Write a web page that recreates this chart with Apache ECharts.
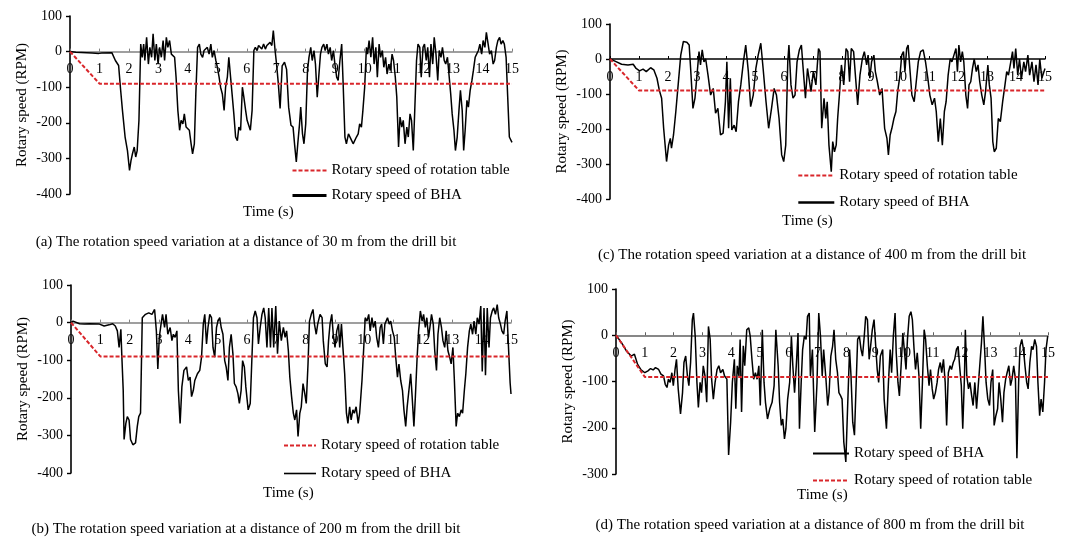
<!DOCTYPE html>
<html>
<head>
<meta charset="utf-8">
<script src="https://cdn.jsdelivr.net/npm/echarts@6/dist/echarts.min.js"></script>
<style>
html,body{margin:0;padding:0;background:#fff;}
#main{width:1065px;height:544px;}
</style>
</head>
<body>
<div id="main"></div>
<script>
// ---------- DATA ----------
const xTicks = [0,1,2,3,4,5,6,7,8,9,10,11,12,13,14,15];
const tableTime = [0, 1, 15];
const tableSpeed = [0, -90, -90];
const nameTable = 'Rotary speed of rotation table';
const nameBHA = 'Rotary speed of BHA';

// (a) 30 m : [time s, rpm]
const bhaA = [[0,0],[0.2,-2],[0.75,-4],[0.98,-5],[1.03,-7],[1.08,-4],[1.42,-3],[1.48,-3],[1.54,-25],[1.59,-30],[1.65,-39],[1.71,-100],[1.78,-165],[1.87,-240],[1.95,-278],[2.02,-334],[2.07,-306],[2.12,-287],[2.18,-268],[2.23,-296],[2.28,-278],[2.34,-193],[2.4,21],[2.45,-16],[2.5,21],[2.54,-25],[2.6,40],[2.66,-35],[2.71,12],[2.77,-16],[2.82,50],[2.88,-25],[2.93,21],[2.99,-35],[3.04,12],[3.1,-16],[3.16,31],[3.21,-25],[3.27,40],[3.32,12],[3.38,31],[3.44,-7],[3.49,-2],[3.55,-16],[3.6,-72],[3.66,-165],[3.72,-221],[3.77,-193],[3.83,-203],[3.88,-175],[3.94,-212],[4.0,-212],[4.05,-221],[4.11,-259],[4.16,-287],[4.22,-259],[4.27,-119],[4.33,12],[4.39,21],[4.44,-7],[4.5,-16],[4.55,3],[4.61,-2],[4.66,12],[4.72,-7],[4.78,21],[4.83,-16],[4.89,3],[4.95,-25],[5.0,-44],[5.06,-72],[5.11,-100],[5.17,-119],[5.23,-165],[5.28,-100],[5.34,-72],[5.39,-16],[5.45,-72],[5.51,-128],[5.56,-175],[5.62,-240],[5.68,-250],[5.73,-212],[5.79,-221],[5.85,-100],[5.9,-128],[5.96,-165],[6.01,-193],[6.07,-193],[6.12,-221],[6.18,-165],[6.24,3],[6.29,12],[6.35,3],[6.4,17],[6.51,7],[6.57,21],[6.63,7],[6.68,17],[6.74,12],[6.79,26],[6.85,17],[6.9,59],[6.96,3],[7.01,-35],[7.07,-90],[7.13,-160],[7.2,-40],[7.28,-30],[7.35,-50],[7.42,-156],[7.5,-207],[7.57,-212],[7.62,-259],[7.68,-310],[7.73,-259],[7.79,-203],[7.83,-156],[7.89,-231],[7.94,-259],[8.0,-203],[8.06,-53],[8.11,-16],[8.17,12],[8.22,-25],[8.28,3],[8.33,-35],[8.39,-128],[8.44,-72],[8.5,-7],[8.55,12],[8.61,21],[8.66,3],[8.72,21],[8.77,-7],[8.83,12],[8.88,-25],[8.94,3],[8.99,-35],[9.05,-72],[9.1,-81],[9.16,-25],[9.22,21],[9.27,-91],[9.33,-240],[9.38,-259],[9.45,-231],[9.5,-231],[9.56,-250],[9.61,-259],[9.67,-259],[9.72,-240],[9.78,-231],[9.83,-203],[9.89,-212],[9.94,-165],[10.0,-100],[10.06,12],[10.1,-7],[10.15,31],[10.21,-16],[10.27,40],[10.32,-35],[10.38,12],[10.43,-72],[10.49,21],[10.54,-16],[10.6,3],[10.65,-44],[10.71,-16],[10.76,-63],[10.82,-35],[10.87,-53],[10.93,-7],[10.98,-25],[11.04,-72],[11.09,-128],[11.15,-268],[11.2,-184],[11.26,-212],[11.31,-193],[11.37,-259],[11.43,-212],[11.48,-240],[11.54,-175],[11.59,-193],[11.65,-278],[11.7,-165],[11.76,-25],[11.81,21],[11.87,12],[11.92,-72],[11.98,12],[12.03,21],[12.09,-25],[12.14,12],[12.2,-72],[12.25,21],[12.31,-35],[12.36,40],[12.42,-7],[12.48,-81],[12.53,3],[12.59,-16],[12.64,12],[12.7,-25],[12.75,-35],[12.81,-16],[12.86,-63],[12.92,-119],[12.97,-175],[13.03,-221],[13.08,-278],[13.14,-240],[13.2,-165],[13.25,-109],[13.31,-165],[13.36,-278],[13.41,-221],[13.47,-137],[13.52,-156],[13.58,-109],[13.64,-81],[13.69,-53],[13.75,-16],[13.8,-7],[13.86,3],[13.91,21],[13.97,-7],[14.02,31],[14.08,12],[14.13,54],[14.19,21],[14.24,-7],[14.3,3],[14.36,-35],[14.41,-25],[14.47,12],[14.52,31],[14.58,40],[14.63,21],[14.69,31],[14.74,21],[14.8,-16],[14.85,-119],[14.91,-240],[15.0,-255]];

// (b) 200 m
const bhaB = [[0,0],[0.07,4],[0.29,-3],[0.46,-4],[0.52,-9],[0.63,-3],[0.97,-4],[1.13,-9],[1.3,-6],[1.42,-3],[1.51,-9],[1.58,-22],[1.64,-66],[1.7,-18],[1.73,-83],[1.78,-180],[1.81,-311],[1.87,-268],[1.92,-250],[1.98,-259],[2.03,-311],[2.11,-325],[2.2,-320],[2.26,-276],[2.31,-250],[2.37,-241],[2.43,13],[2.54,22],[2.65,26],[2.76,22],[2.85,35],[2.91,-22],[2.96,-123],[3.01,-39],[3.07,-4],[3.12,22],[3.19,-13],[3.24,22],[3.3,-31],[3.38,-13],[3.44,-48],[3.49,-31],[3.55,-39],[3.61,-22],[3.66,-180],[3.72,-268],[3.78,-171],[3.85,-127],[3.94,-118],[4.0,-154],[4.06,-145],[4.11,-197],[4.17,-180],[4.22,-154],[4.31,-136],[4.39,-127],[4.45,-92],[4.51,-4],[4.56,22],[4.62,-57],[4.67,-13],[4.73,22],[4.79,13],[4.84,-66],[4.9,-92],[4.96,-13],[5.01,4],[5.07,13],[5.12,-13],[5.18,-31],[5.24,-101],[5.29,-118],[5.35,-154],[5.4,-66],[5.46,-31],[5.52,-83],[5.57,-162],[5.63,-171],[5.69,-189],[5.74,-215],[5.8,-180],[5.85,-101],[5.91,-118],[5.96,-171],[6.04,-232],[6.11,-215],[6.16,-110],[6.22,13],[6.28,31],[6.34,13],[6.39,-57],[6.45,-13],[6.51,22],[6.57,39],[6.62,13],[6.68,-66],[6.74,39],[6.8,-66],[6.85,39],[6.91,-66],[6.98,44],[7.04,-83],[7.1,4],[7.17,-48],[7.24,-13],[7.3,-39],[7.35,-22],[7.41,-75],[7.46,-145],[7.52,-197],[7.58,-241],[7.63,-259],[7.69,-232],[7.74,-303],[7.8,-241],[7.85,-224],[7.91,-162],[7.97,-189],[8.02,-215],[8.08,-110],[8.13,4],[8.19,22],[8.25,35],[8.3,-4],[8.36,-31],[8.41,-4],[8.49,22],[8.56,13],[8.6,-48],[8.67,-110],[8.73,-118],[8.78,-48],[8.83,-4],[8.89,22],[8.94,-31],[9.0,-66],[9.06,-22],[9.12,-4],[9.16,-66],[9.22,-4],[9.27,-66],[9.33,-136],[9.39,-241],[9.44,-268],[9.5,-224],[9.55,-259],[9.61,-232],[9.66,-241],[9.72,-224],[9.79,-268],[9.84,-241],[9.92,-154],[9.98,-66],[10.03,13],[10.09,4],[10.15,22],[10.2,-22],[10.26,13],[10.31,-13],[10.37,4],[10.42,-39],[10.48,-66],[10.54,-13],[10.59,-4],[10.65,-57],[10.7,-4],[10.79,13],[10.85,-4],[10.9,4],[10.96,-22],[11.02,-39],[11.07,-92],[11.13,-145],[11.18,-110],[11.24,-154],[11.3,-180],[11.35,-232],[11.41,-276],[11.46,-224],[11.52,-180],[11.58,-136],[11.63,-197],[11.69,-276],[11.74,-197],[11.8,-92],[11.85,-22],[11.91,31],[11.97,4],[12.02,22],[12.08,-13],[12.13,13],[12.19,-39],[12.25,-4],[12.29,22],[12.35,-4],[12.4,-75],[12.46,-127],[12.51,-31],[12.57,13],[12.63,-13],[12.68,-48],[12.74,-66],[12.79,-22],[12.85,-75],[12.91,-92],[12.96,-110],[13.02,-66],[13.07,-154],[13.13,-276],[13.18,-241],[13.24,-250],[13.3,-232],[13.35,-241],[13.41,-180],[13.46,-136],[13.52,-66],[13.58,-22],[13.63,-4],[13.69,-31],[13.74,4],[13.8,-31],[13.85,13],[13.91,-4],[13.97,44],[14.02,-130],[14.08,39],[14.13,-140],[14.19,39],[14.25,-66],[14.3,13],[14.36,31],[14.41,39],[14.47,22],[14.53,48],[14.58,13],[14.64,-4],[14.69,-22],[14.75,-31],[14.8,4],[14.86,31],[14.93,-92],[14.97,-160],[15.0,-190]];

// (c) 400 m
const bhaC = [[0,0],[0.17,-6],[0.4,-15],[0.62,-17],[0.8,-15],[0.9,-27],[1.02,-34],[1.14,-29],[1.25,-36],[1.4,-25],[1.51,-31],[1.62,-55],[1.7,-89],[1.78,-112],[1.85,-198],[1.95,-293],[2.02,-246],[2.08,-227],[2.12,-255],[2.19,-217],[2.27,-150],[2.35,-74],[2.44,11],[2.53,50],[2.65,48],[2.73,40],[2.78,-27],[2.86,-141],[2.93,-112],[3.01,-36],[3.07,21],[3.12,-17],[3.18,26],[3.24,-8],[3.3,0],[3.38,-46],[3.47,-103],[3.56,-84],[3.64,-155],[3.72,-141],[3.81,-217],[3.9,-212],[3.98,-122],[4.03,-8],[4.09,-198],[4.15,-55],[4.2,-203],[4.28,-189],[4.35,-208],[4.43,-122],[4.51,-74],[4.6,-8],[4.68,40],[4.77,-36],[4.85,-136],[4.94,-103],[5.03,-27],[5.11,11],[5.2,45],[5.28,-27],[5.38,-122],[5.47,-198],[5.57,-141],[5.66,-84],[5.74,-103],[5.83,-170],[5.92,-274],[5.99,-293],[6.06,-246],[6.13,-8],[6.17,40],[6.24,-74],[6.31,-112],[6.38,-103],[6.45,-8],[6.53,26],[6.6,40],[6.66,-27],[6.74,-112],[6.81,-27],[6.88,-65],[6.93,-93],[7.01,-36],[7.1,-74],[7.19,30],[7.24,21],[7.3,-198],[7.38,-112],[7.44,-170],[7.49,-122],[7.55,-246],[7.63,-322],[7.68,-236],[7.74,-265],[7.8,-246],[7.85,-170],[7.91,-103],[7.98,-17],[8.06,-74],[8.14,30],[8.2,21],[8.26,-65],[8.32,30],[8.4,21],[8.47,-55],[8.54,-131],[8.62,-46],[8.7,0],[8.77,21],[8.85,-17],[8.9,11],[8.96,-55],[9.02,-8],[9.1,11],[9.15,-36],[9.22,-65],[9.3,-103],[9.38,-84],[9.47,-198],[9.55,-227],[9.6,-274],[9.66,-217],[9.72,-198],[9.79,-170],[9.86,-150],[9.92,-93],[10.0,-46],[10.06,11],[10.12,21],[10.17,-36],[10.23,30],[10.28,40],[10.34,-27],[10.41,-103],[10.49,-122],[10.56,-65],[10.63,-8],[10.71,21],[10.8,26],[10.88,-8],[10.96,-55],[11.03,-103],[11.11,-131],[11.19,-112],[11.25,-150],[11.32,-236],[11.39,-170],[11.46,-246],[11.53,-150],[11.59,-122],[11.66,-46],[11.73,0],[11.79,-8],[11.86,11],[11.93,30],[11.98,-36],[12.03,40],[12.09,-8],[12.15,21],[12.2,-8],[12.27,-103],[12.33,-141],[12.38,-74],[12.44,-65],[12.5,-27],[12.56,0],[12.63,-36],[12.69,-17],[12.75,-65],[12.82,-103],[12.89,-131],[12.95,-93],[13.03,-17],[13.08,-74],[13.14,-112],[13.2,-236],[13.25,-265],[13.32,-255],[13.39,-170],[13.46,-179],[13.54,-122],[13.62,-74],[13.68,-36],[13.74,-46],[13.82,-8],[13.88,21],[13.93,-27],[13.99,30],[14.06,-46],[14.12,0],[14.19,-55],[14.27,-8],[14.33,-36],[14.41,11],[14.47,-46],[14.55,-8],[14.62,-65],[14.69,-17],[14.76,-74],[14.82,0],[14.89,-55],[15.0,-27]];

// (d) 800 m
const bhaD = [[0,0],[0.19,-16],[0.36,-34],[0.53,-45],[0.64,-41],[0.75,-63],[0.86,-74],[1.0,-81],[1.11,-77],[1.2,-72],[1.29,-75],[1.37,-70],[1.48,-74],[1.56,-84],[1.65,-88],[1.71,-106],[1.77,-113],[1.82,-95],[1.88,-102],[1.94,-81],[1.99,-109],[2.05,-74],[2.1,-52],[2.16,-116],[2.24,-170],[2.31,-124],[2.36,-59],[2.42,-45],[2.48,-88],[2.53,-109],[2.59,-59],[2.65,34],[2.69,48],[2.75,-2],[2.81,-102],[2.86,-156],[2.92,-102],[2.97,-124],[3.03,-66],[3.09,-88],[3.15,-145],[3.21,19],[3.27,-9],[3.32,-95],[3.38,-138],[3.44,-102],[3.51,-74],[3.57,-66],[3.63,-81],[3.71,-74],[3.77,-88],[3.85,-95],[3.91,-259],[3.98,-188],[4.04,-102],[4.11,-52],[4.16,-159],[4.21,-66],[4.27,-88],[4.31,-9],[4.36,-166],[4.42,-23],[4.47,-66],[4.54,12],[4.61,16],[4.66,-2],[4.72,-52],[4.78,-95],[4.84,-81],[4.9,-95],[4.96,-66],[5.01,-152],[5.08,12],[5.14,-102],[5.19,-145],[5.26,-181],[5.34,-159],[5.42,-145],[5.49,-109],[5.55,12],[5.63,-66],[5.68,-145],[5.74,-195],[5.79,-181],[5.85,-224],[5.9,-202],[5.96,-138],[6.03,-102],[6.09,-2],[6.14,-66],[6.2,-124],[6.26,-66],[6.32,5],[6.37,-202],[6.43,-102],[6.48,-31],[6.54,-2],[6.6,-9],[6.65,41],[6.71,48],[6.75,-88],[6.82,-31],[6.9,-209],[6.98,-102],[7.04,48],[7.1,-2],[7.16,-88],[7.21,-31],[7.29,-95],[7.35,-152],[7.4,-124],[7.46,-45],[7.52,-24],[7.57,12],[7.63,-52],[7.69,-81],[7.74,-124],[7.8,-131],[7.85,-138],[7.91,-231],[7.98,-274],[8.04,-159],[8.11,-31],[8.16,-88],[8.22,-188],[8.28,-216],[8.34,-102],[8.39,-9],[8.45,-2],[8.51,-31],[8.56,-45],[8.62,-2],[8.67,41],[8.73,34],[8.79,-52],[8.84,-24],[8.9,12],[8.96,34],[9.01,-16],[9.07,-74],[9.12,-102],[9.18,-45],[9.26,-31],[9.31,-138],[9.39,-202],[9.46,-102],[9.52,-31],[9.57,-81],[9.63,-2],[9.69,48],[9.73,-38],[9.79,-102],[9.84,-131],[9.9,-66],[9.96,5],[10.01,-31],[10.07,-74],[10.12,-9],[10.18,41],[10.24,51],[10.29,34],[10.35,-31],[10.4,-74],[10.46,-38],[10.52,-88],[10.58,-202],[10.64,-102],[10.7,12],[10.75,-9],[10.81,-66],[10.87,-109],[10.92,-74],[10.98,-116],[11.03,-138],[11.09,-124],[11.15,-102],[11.2,-74],[11.26,-59],[11.31,-81],[11.37,-52],[11.43,-102],[11.48,-195],[11.54,-81],[11.6,-66],[11.65,-74],[11.71,-59],[11.76,-52],[11.82,-31],[11.88,-24],[11.93,-66],[11.99,-109],[12.04,-202],[12.1,-88],[12.13,12],[12.18,-88],[12.24,-116],[12.29,-102],[12.35,-131],[12.4,-152],[12.46,-102],[12.52,-159],[12.57,-116],[12.63,-66],[12.69,-16],[12.74,41],[12.8,-31],[12.85,-102],[12.91,-138],[12.97,-152],[13.02,-102],[13.08,-74],[13.13,-195],[13.19,-174],[13.25,-159],[13.3,-102],[13.36,-138],[13.42,-188],[13.47,-124],[13.53,-95],[13.58,-81],[13.64,-66],[13.7,-109],[13.75,-95],[13.81,-66],[13.87,-95],[13.92,-266],[13.98,-102],[14.03,-24],[14.09,-9],[14.15,-31],[14.2,-66],[14.26,-102],[14.31,-116],[14.37,-59],[14.43,-24],[14.48,-31],[14.54,-9],[14.6,-24],[14.65,-102],[14.71,-174],[14.76,-138],[14.82,-166],[14.88,-102],[14.93,-31],[14.99,-2]];

const captions = [
  '(a) The rotation speed variation at a distance of 30 m from the drill bit',
  '(b) The rotation speed variation at a distance of 200 m from the drill bit',
  '(c) The rotation speed variation at a distance of 400 m from the drill bit',
  '(d) The rotation speed variation at a distance of 800 m from the drill bit'
];
const yTitle = 'Rotary speed (RPM)';
const xTitle = 'Time (s)';

// ---------- LAYOUT ----------
const FONT = '"Liberation Serif","Times New Roman",serif';
const Y_MAX = 100;
const panels = [
  {bha: bhaA, grid:{left:70, top:16, width:442, height:178}, yMin:-400, xLine:'#808080',
   legend:{left:291, top:163, gap:10, w:34, order:[nameTable, nameBHA], bhaW:3},
   time:[268,211], cap:[246,242]},
  {bha: bhaB, grid:{left:71, top:285, width:440, height:188}, yMin:-400, xLine:'#808080',
   legend:{left:283, top:438, gap:13, w:32, order:[nameTable, nameBHA], bhaW:1.6},
   time:[288,492], cap:[246,529]},
  {bha: bhaC, grid:{left:610, top:24, width:435, height:175}, yMin:-400, xLine:'#000',
   legend:{left:797, top:168, gap:12, w:36, order:[nameTable, nameBHA], bhaW:2.6},
   time:[807,220], cap:[812,255]},
  {bha: bhaD, grid:{left:616, top:289, width:432, height:185}, yMin:-300, xLine:'#606060',
   legend:{left:812, top:446, gap:12, w:36, order:[nameBHA, nameTable], bhaW:2},
   time:[822,494], cap:[810,525]}
];

const tableData = tableTime.map((t, i) => [t, tableSpeed[i]]);

const option = {
  animation: false,
  backgroundColor: '#fff',
  grid: [], xAxis: [], yAxis: [], series: [], legend: [], graphic: []
};

panels.forEach((p, i) => {
  option.grid.push(Object.assign({containLabel:false}, p.grid));
  // time axis drawn along the 0 rpm level (offset from the grid bottom)
  const zeroOffset = -p.grid.height * (0 - p.yMin) / (Y_MAX - p.yMin);
  option.xAxis.push({
    type:'value', gridIndex:i, min:0, max:15, interval:1, position:'bottom', offset:zeroOffset,
    axisLine:{show:true, onZero:false, lineStyle:{color:p.xLine, width:1.5}},
    axisTick:{show:true, inside:true, length:3, lineStyle:{color:p.xLine}},
    axisLabel:{show:true, margin:11, fontSize:14, fontFamily:FONT, color:'#000',
      formatter: v => xTicks.indexOf(v) >= 0 ? String(v) : ''},
    splitLine:{show:false}
  });
  option.yAxis.push({
    type:'value', gridIndex:i, min:p.yMin, max:Y_MAX, interval:100,
    name: yTitle, nameLocation:'middle', nameGap:40,
    nameTextStyle:{fontSize:15, fontFamily:FONT, color:'#000'},
    axisLine:{show:true, lineStyle:{color:'#000', width:1.6}},
    axisTick:{show:true, length:4, lineStyle:{color:'#000', width:1.4}},
    axisLabel:{fontSize:14, fontFamily:FONT, color:'#000', margin:8},
    splitLine:{show:false}
  });
  option.series.push({
    name:nameBHA, type:'line', xAxisIndex:i, yAxisIndex:i, data:p.bha,
    symbol:'none', showSymbol:false, z:2,
    lineStyle:{color:'#000', width:1.5}, itemStyle:{color:'#000'}
  });
  option.series.push({
    name:nameTable, type:'line', xAxisIndex:i, yAxisIndex:i, data:tableData,
    symbol:'none', showSymbol:false, z:3,
    lineStyle:{color:'#d9262b', width:2, type:[4,2]}, itemStyle:{color:'#d9262b'}
  });
  const L = p.legend;
  option.legend.push({
    orient:'vertical', left:L.left, top:L.top, itemGap:L.gap, itemWidth:L.w, itemHeight:14,
    selectedMode:false, padding:0,
    itemStyle:{opacity:0},
    textStyle:{fontSize:15, fontFamily:FONT, color:'#000'},
    data: L.order.map(n => n === nameBHA
      ? {name:n, lineStyle:{width:L.bhaW, color:'#000'}}
      : {name:n})
  });
  option.graphic.push({type:'text', left:p.time[0]-25, top:p.time[1]-6,
    style:{text:xTitle, font:'15px ' + FONT, fill:'#000'}});
  option.graphic.push({type:'text', x:p.cap[0], y:p.cap[1],
    style:{text:captions[i], font:'15px ' + FONT, fill:'#000', textAlign:'center', textVerticalAlign:'middle'}});
});

const chart = echarts.init(document.getElementById('main'));
chart.setOption(option);
</script>
</body>
</html>
